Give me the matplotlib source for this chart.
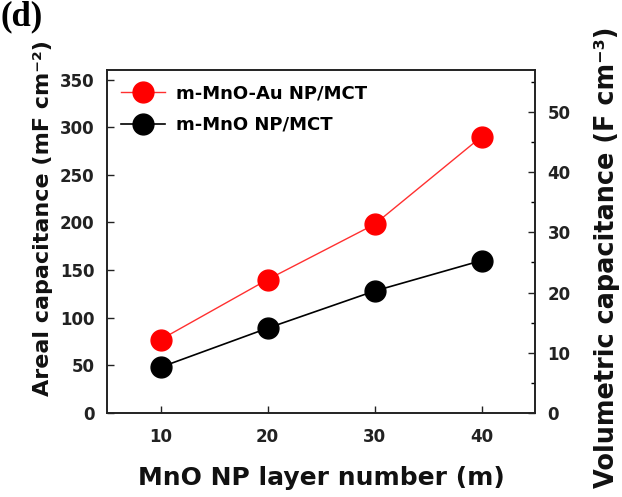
import matplotlib
matplotlib.use("Agg")
import matplotlib.pyplot as plt
from matplotlib.ticker import MultipleLocator

plt.rcParams['font.family'] = ['DejaVu Sans']
plt.rcParams['font.weight'] = 'bold'

# Layer number (m)
layers = [10, 20, 30, 40]
# Areal capacitance (mF cm^-2)
au_areal = [77, 140, 198, 290]
mno_areal = [48, 89, 128, 160]
series_labels = ["m-MnO-Au NP/MCT", "m-MnO NP/MCT"]
x_ticks = [10, 20, 30, 40]
left_ticks = [0, 50, 100, 150, 200, 250, 300, 350]
right_ticks = [0, 10, 20, 30, 40, 50]
# areal-to-volumetric scale ratio of the twin axis
vol_ratio = 6.32

W, H = 622, 497
fig = plt.figure(figsize=(W / 100, H / 100), dpi=100)
ax = fig.add_axes([107 / W, 1 - 413 / H, (535 - 107) / W, (413 - 70) / H])

ax.plot(layers, au_areal, color='#ff3030', lw=1.0, marker='o', ms=15,
        mfc='#ff0000', mec='#ff0000', label=series_labels[0], zorder=3)
ax.plot(layers, mno_areal, color='black', lw=1.2, marker='o', ms=15,
        mfc='black', mec='black', label=series_labels[1], zorder=3)

ax.set_xlim(5, 45)
ax.set_ylim(0, 360)
ax.set_xticks(x_ticks)
ax.set_yticks(left_ticks)
ax.tick_params(axis='both', direction='in', length=5, width=1,
               labelsize=12, colors='#222222')
ax.tick_params(axis='y', pad=9)
ax.tick_params(axis='x', pad=11)
for s in ax.spines.values():
    s.set_linewidth(1.2)
    s.set_color('#222222')

ax2 = ax.twinx()
ax2.set_ylim(0, 360 / vol_ratio)
ax2.set_yticks(right_ticks)
ax2.yaxis.set_minor_locator(MultipleLocator(5))
ax2.tick_params(axis='y', which='major', direction='in', length=5, width=1,
                labelsize=12, colors='#222222', pad=9)
ax2.tick_params(axis='y', which='minor', direction='in', length=3, width=1)
for s in ax2.spines.values():
    s.set_linewidth(1.2)
    s.set_color('#222222')

# axis titles
fig.text(321 / W, 1 - 478 / H, "MnO NP layer number (m)", fontsize=18,
         ha='center', va='center', color='#111111')
fig.text(43 / W, 1 - 218 / H, "Areal capacitance (mF cm\u207b\u00b2)", fontsize=16,
         rotation=90, ha='center', va='center', color='#111111')
fig.text(607 / W, 1 - 257 / H, "Volumetric capacitance (F cm\u207b\u00b3)", fontsize=18.4,
         rotation=90, ha='center', va='center', color='#111111')

ax.legend(loc='upper left', frameon=False, fontsize=13,
          handlelength=2.4, handletextpad=0.6, borderaxespad=0.4,
          labelspacing=0.75, bbox_to_anchor=(0.0, 1.0))

fig.text(0.0, 1.0, "(d)", family=['Liberation Serif', 'DejaVu Serif'],
         fontsize=25, fontweight='bold', va='top', ha='left')

fig.savefig("out.png", dpi=100)
